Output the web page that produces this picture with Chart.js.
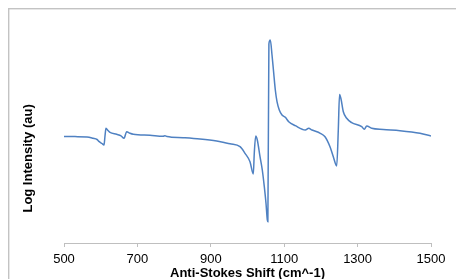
<!DOCTYPE html>
<html>
<head>
<meta charset="utf-8">
<script src="https://cdn.jsdelivr.net/npm/chart.js@4"></script>
<style>
html,body{margin:0;padding:0;background:#fff;}
#wrap{width:456px;height:279px;position:relative;}
</style>
</head>
<body>
<div id="wrap"><canvas id="c" width="456" height="279"></canvas></div>
<script>
const wavenumbers = [500,530,562.7,579,590,596,603.5,609,611.7,614.4,620,625.3,643.6,655.3,663.5,670.8,679.8,688.8,734.3,769.8,775.2,780.6,824.3,870.6,916,938.7,952.3,979.6,993.2,1006.8,1015.8,1018.5,1022.4,1026.7,1034.1,1040.3,1045.8,1050.4,1054,1055.5,1058.3,1062.1,1066.8,1071.4,1075.8,1080.4,1086.6,1094,1103,1112.3,1130.3,1157.5,1166.8,1175.8,1198.4,1211.2,1224.8,1233.8,1243.1,1247.4,1250.8,1254.8,1261.1,1270.3,1283.9,1311.2,1318.3,1324.8,1338.4,1370,1415.5,1470,1500];
const logIntensity = [10.65,10.64,10.60,10.47,10.35,10.13,9.95,9.80,10.70,11.47,11.25,11.07,10.87,10.72,10.47,11.13,10.97,10.87,10.77,10.67,10.73,10.65,10.53,10.40,10.20,10.03,9.92,9.63,8.97,8.13,6.90,9.00,10.70,10.30,8.63,7.30,5.63,3.97,2.30,2.13,19.90,20.30,18.80,17.00,15.30,14.13,13.30,12.80,12.57,12.13,11.73,11.30,11.47,11.30,10.97,10.63,9.63,8.63,7.70,11.30,14.85,14.40,13.13,12.47,12.03,11.63,11.37,11.70,11.47,11.35,11.23,10.97,10.70];
const xTicks = [500,700,900,1100,1300,1500];
const xTitle = 'Anti-Stokes Shift (cm^-1)';
const yTitle = 'Log Intensity (au)';

const points = wavenumbers.map((w,i)=>({x:w,y:logIntensity[i]}));
const FONT = "'Liberation Sans', Arial, sans-serif";

const framePlugin = {
  id:'frame',
  beforeDraw(chart){
    const ctx = chart.ctx;
    ctx.save();
    ctx.strokeStyle = '#c3c3c3';
    ctx.lineWidth = 1.4;
    ctx.strokeRect(8.7, 8.7, 600, 600);
    ctx.restore();
  },
  afterDraw(chart){
    const t = chart.options.scales.y.title;
    const ctx = chart.ctx;
    ctx.save();
    ctx.translate(28.3, 158.4);
    ctx.rotate(-Math.PI/2);
    ctx.font = "bold 13px " + FONT;
    ctx.fillStyle = '#000';
    ctx.textAlign = 'center';
    ctx.textBaseline = 'middle';
    ctx.fillText(t.text, 0, 0);
    ctx.restore();
  }
};

new Chart(document.getElementById('c'), {
  type:'scatter',
  data:{datasets:[{
    data:points,
    showLine:true,
    borderColor:'#4f81c2',
    backgroundColor:'#4f81c2',
    borderWidth:1.5,
    pointRadius:0,
    cubicInterpolationMode:'monotone'
  }]},
  options:{
    responsive:false,
    animation:false,
    layout:{padding:{left:0,right:25,top:30,bottom:0}},
    plugins:{legend:{display:false},tooltip:{enabled:false}},
    scales:{
      x:{
        type:'linear',min:500,max:1500,
        afterBuildTicks(axis){ axis.ticks = xTicks.map(v=>({value:v})); },
        afterFit(axis){ axis.height = 36; },
        grid:{display:true,drawOnChartArea:false,drawTicks:true,tickLength:4,color:'#bfbfbf'},
        border:{display:true,color:'#bfbfbf',width:1},
        ticks:{font:{family:FONT,size:13},color:'#000',padding:5,maxRotation:0,autoSkip:false,callback:v=>String(v)},
        title:{display:true,text:xTitle,font:{family:FONT,size:13,weight:'bold',lineHeight:1},color:'#000',padding:{top:0,bottom:-1}}
      },
      y:{
        min:0,max:21.3,
        afterFit(axis){ axis.width = 64; },
        grid:{display:false},
        border:{display:false},
        ticks:{display:false},
        title:{display:false,text:yTitle}
      }
    }
  },
  plugins:[framePlugin]
});
</script>
</body>
</html>
